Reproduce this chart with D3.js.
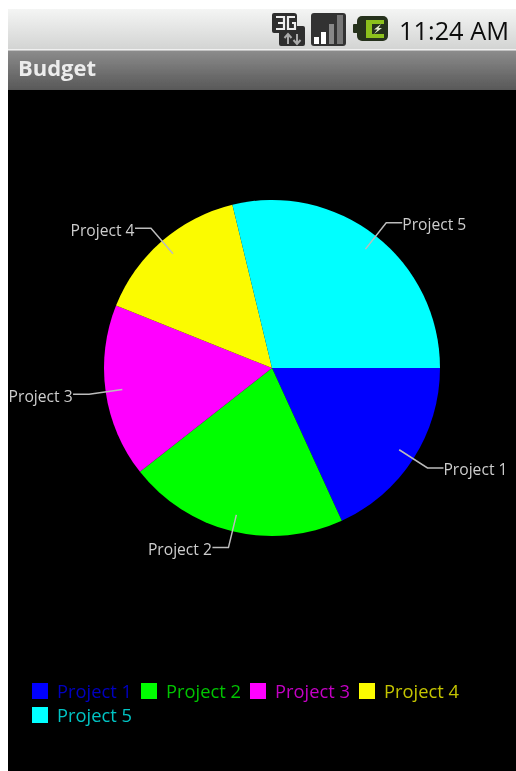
<!DOCTYPE html>
<html><head><meta charset="utf-8">
<script src="https://cdnjs.cloudflare.com/ajax/libs/d3/7.8.5/d3.min.js"></script>
<style>html,body{margin:0;padding:0;background:#fff;overflow:hidden}svg{display:block}text{font-family:"Open Sans",sans-serif}</style>
</head><body><svg id="c" width="516" height="771"></svg>
<script>
const categories=["Project 1","Project 2","Project 3","Project 4","Project 5"];
const budget=[12,14,11,10,19];
const colors=["#0000ff","#00ff00","#ff00ff","#fbfb00","#00ffff"];
const legendColors=["#0000c0","#00c400","#c400c4","#c4c400","#00c4c4"];
const appTitle="Budget", clock="11:24 AM";

const svg=d3.select("#c");
const defs=svg.append("defs");
const g1=defs.append("linearGradient").attr("id","sb").attr("x1",0).attr("x2",0).attr("y1",0).attr("y2",1);
g1.append("stop").attr("offset",0).attr("stop-color","#f4f5f4");
g1.append("stop").attr("offset",1).attr("stop-color","#d3d4d3");
const g2=defs.append("linearGradient").attr("id","tb").attr("x1",0).attr("x2",0).attr("y1",0).attr("y2",1);
g2.append("stop").attr("offset",0).attr("stop-color","#8c8c8c");
g2.append("stop").attr("offset",1).attr("stop-color","#585858");
defs.append("filter").attr("id","soft").attr("x","-5%").attr("y","-5%").attr("width","110%").attr("height","110%")
 .append("feGaussianBlur").attr("stdDeviation",0.5);

const root=svg.append("g").attr("filter","url(#soft)");
root.append("rect").attr("x",8).attr("y",9).attr("width",508).attr("height",40).attr("fill","url(#sb)");
root.append("rect").attr("x",8).attr("y",49).attr("width",508).attr("height",1.5).attr("fill","#f0f0f0");
root.append("rect").attr("x",8).attr("y",50.5).attr("width",508).attr("height",39.5).attr("fill","url(#tb)");
root.append("rect").attr("x",8).attr("y",90).attr("width",508).attr("height",681).attr("fill","#000");
root.append("text").attr("x",18).attr("y",76).attr("font-size",22).attr("font-weight",700).attr("textLength",78).attr("lengthAdjust","spacing").attr("fill","#ececec").text(appTitle);
root.append("text").attr("x",399).attr("y",40).attr("font-size",25).attr("font-weight",500).attr("textLength",110).attr("lengthAdjust","spacingAndGlyphs").attr("fill","#0c0c0c").attr("font-family","Roboto").text(clock);

// status icons
const icons=root.append("g");
icons.append("path").attr("d","M274 13h20a3 3 0 0 1 3 3v10h6a2 2 0 0 1 2 2v16a2 2 0 0 1 -2 2h-22a2 2 0 0 1 -2 -2v-11h-5a2 2 0 0 1 -2 -2v-16a2 2 0 0 1 2 -2z").attr("fill","#2e2e2e");
icons.append("path").attr("d","M276 17h8v12h-8M278 23h6M295 17h-7v12h7v-6h-3").attr("fill","none").attr("stroke","#eee").attr("stroke-width",2.2);
icons.append("path").attr("d","M288 44v-9M284.5 38l3.5-4 3.5 4M297 34v9M293.5 40l3.5 4 3.5-4").attr("fill","none").attr("stroke","#aaa").attr("stroke-width",2);
icons.append("rect").attr("x",311).attr("y",13).attr("width",35).attr("height",33).attr("rx",3).attr("fill","#333");
[[314,37,5,"#fff"],[321,32,5,"#fff"],[329,24,5,"#888"],[337,15,6,"#777"]].forEach(([x,y,w,f])=>icons.append("rect").attr("x",x).attr("y",y).attr("width",w).attr("height",44-y).attr("fill",f));
icons.append("rect").attr("x",357).attr("y",16).attr("width",31).attr("height",25).attr("rx",5).attr("fill","#26301c");
icons.append("rect").attr("x",353).attr("y",24).attr("width",5).attr("height",9).attr("rx",1).attr("fill","#26301c");
icons.append("path").attr("d","M384 20h-18v18h18v-4h-12v-10h12z").attr("fill","#8cc11f");
icons.append("path").attr("d","M381 24l-7 5.5h3.5l-3.5 4.5 8-6h-3.5z").attr("fill","#e6eed2");

// pie
const cx=272, cy=368, R=168;
const pie=d3.pie().sort(null).startAngle(Math.PI/2).endAngle(Math.PI*2.5);
const arcs=pie(budget);
const arc=d3.arc().innerRadius(0).outerRadius(R);
const chart=root.append("g").attr("transform",`translate(${cx},${cy})`);
chart.selectAll("path.s").data(arcs).join("path").attr("class","s").attr("d",arc).attr("fill",(d,i)=>colors[i]);

const inner=d3.arc().innerRadius(R*0.9).outerRadius(R*0.9);
const outer=d3.arc().innerRadius(R*1.1).outerRadius(R*1.1);
const line=d3.line();
arcs.forEach((d,i)=>{
  const p0=inner.centroid(d), p1=outer.centroid(d);
  const right=p1[0]>0, ex=p1[0]+(right?16:-16);
  chart.append("path").attr("d",line([p0,p1,[ex,p1[1]]])).attr("fill","none").attr("stroke","#bcbcbc").attr("stroke-width",1.5);
  chart.append("text").attr("x",ex+(right?0:-0.5)).attr("y",p1[1]+7.5).attr("text-anchor",right?"start":"end")
    .attr("font-size",17).attr("textLength",64).attr("lengthAdjust","spacingAndGlyphs").attr("fill","#cdcdcd").text(categories[i]);
});

// legend
const legendX=d3.scalePoint().domain(d3.range(4)).range([32,359]);
categories.forEach((c,i)=>{
  const row=i<4?0:1, x=legendX(i%4), y=row?707:683;
  root.append("rect").attr("x",x).attr("y",y).attr("width",16).attr("height",16).attr("fill",colors[i]);
  root.append("text").attr("x",x+25).attr("y",y+15).attr("font-size",18).attr("textLength",75).attr("lengthAdjust","spacingAndGlyphs").attr("fill",legendColors[i]).text(c);
});
</script></body></html>
